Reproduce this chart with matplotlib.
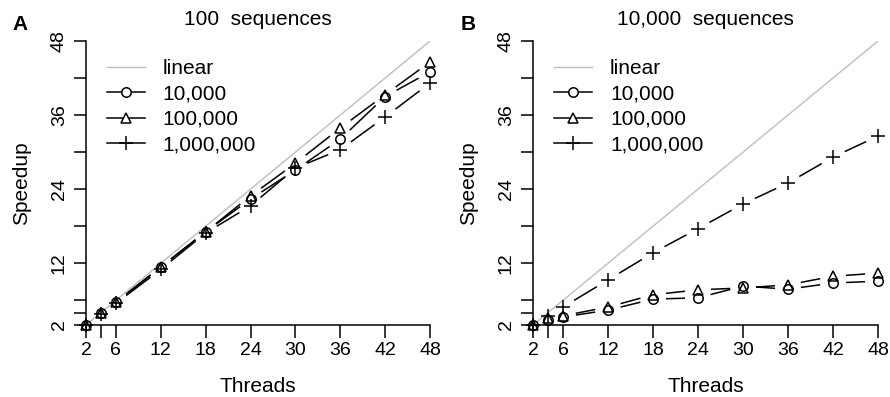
import numpy as np
import matplotlib
matplotlib.use('Agg')
import matplotlib.pyplot as plt
from matplotlib.lines import Line2D

plt.rcParams['font.family'] = ['Liberation Sans', 'DejaVu Sans']

# dane
threads = [2, 4, 6, 12, 18, 24, 30, 36, 42, 48]
linear = [2, 48]

a_10k = [2, 3.9, 5.7, 11.4, 17.1, 22.4, 27.1, 32.1, 39.0, 43.0]
a_100k = [2, 3.9, 5.7, 11.4, 17.1, 22.9, 28.2, 33.9, 39.3, 44.6]
a_1m = [2, 3.8, 5.5, 11.0, 16.9, 21.3, 27.4, 30.4, 35.7, 41.2]

b_10k = [2, 2.8, 3.3, 4.4, 6.2, 6.4, 8.3, 7.8, 8.8, 9.1]
b_100k = [2, 3.1, 3.5, 4.9, 6.9, 7.7, 8.0, 8.5, 9.9, 10.4]
b_1m = [2, 3.5, 4.9, 9.3, 13.7, 17.6, 21.6, 25.0, 29.2, 32.6]

seria_nazwy = ['10,000', '100,000', '1,000,000']
markery = ['o', '^', '+']
rozmiary = [6.8, 7.8, 10]

ticks = [2, 4, 6, 12, 18, 24, 30, 36, 42, 48]
xlabels = ['2', '', '6', '12', '18', '24', '30', '36', '42', '48']
ylabels = ['2', '', '', '12', '', '24', '', '36', '', '48']

GREY = '#bebebe'
FS = 15


# linia z przerwami przy punktach (jak type="b" w R)
def liniaZPrzerwami(ax, x, y, gap=13):
    pts = ax.transData.transform(np.column_stack([x, y]))
    inv = ax.transData.inverted()
    for p, q in zip(pts[:-1], pts[1:]):
        d = q - p
        L = np.hypot(d[0], d[1])
        if L <= 2 * gap:
            continue
        u = d / L
        seg = inv.transform([p + u * gap, q - u * gap])
        ax.plot(seg[:, 0], seg[:, 1], color='black', lw=1.1, solid_capstyle='butt')


def panel(ax, serie, tytul, litera, litera_x):
    ax.set_xlim(2, 48)
    ax.set_ylim(2, 48)
    for s in ['top', 'right']:
        ax.spines[s].set_visible(False)
    for s in ['left', 'bottom']:
        ax.spines[s].set_linewidth(1.1)

    ax.plot(linear, linear, color=GREY, lw=1.0, zorder=1)

    for y, m, ms in zip(serie, markery, rozmiary):
        liniaZPrzerwami(ax, threads, y)
        ax.plot(threads, y, linestyle='none', marker=m, markersize=ms,
                mfc='none', mec='black', mew=1.1, clip_on=False, zorder=3)

    ax.set_xticks(ticks)
    ax.set_xticklabels(xlabels)
    ax.set_yticks(ticks)
    ax.set_yticklabels(ylabels, rotation=90, va='center')
    ax.tick_params(axis='both', direction='out', length=9, width=1.1,
                   labelsize=14, colors='black')
    ax.tick_params(axis='x', pad=3.5)
    ax.tick_params(axis='y', pad=4)

    ax.text(0.5, (325 - 19) / 284, tytul, transform=ax.transAxes,
            ha='center', va='center', fontsize=FS)
    ax.text(0.5, (325 - 386) / 284, 'Threads', transform=ax.transAxes,
            ha='center', va='center', fontsize=FS)
    ax.text(-64 / 344, 0.5, 'Speedup', transform=ax.transAxes, rotation=90,
            ha='center', va='center', fontsize=FS)
    fig.text(litera_x / 890, 1 - 24 / 397, litera, ha='left', va='center',
             fontsize=FS, fontweight='bold')

    uchwyty = [Line2D([], [], color=GREY, lw=1.0)]
    for m, ms in zip(markery, rozmiary):
        uchwyty.append(Line2D([], [], color='black', lw=1.1, marker=m,
                              markersize=ms, mfc='white', mec='black', mew=1.1))
    ax.legend(uchwyty, ['linear'] + seria_nazwy, loc='upper left',
              bbox_to_anchor=(21 / 344, (325 - 59) / 284), frameon=False,
              fontsize=FS, handlelength=1.82, handletextpad=0.86,
              labelspacing=0.31, borderpad=0, borderaxespad=0, numpoints=1)


fig = plt.figure(figsize=(8.9, 3.97), dpi=100)
axA = fig.add_axes([86 / 890, 72 / 397, 344 / 890, 284 / 397])
axB = fig.add_axes([533 / 890, 72 / 397, 345 / 890, 284 / 397])

panel(axA, [a_10k, a_100k, a_1m], '100  sequences', 'A', 12)
panel(axB, [b_10k, b_100k, b_1m], '10,000  sequences', 'B', 461)

fig.savefig('out.png', dpi=100)
